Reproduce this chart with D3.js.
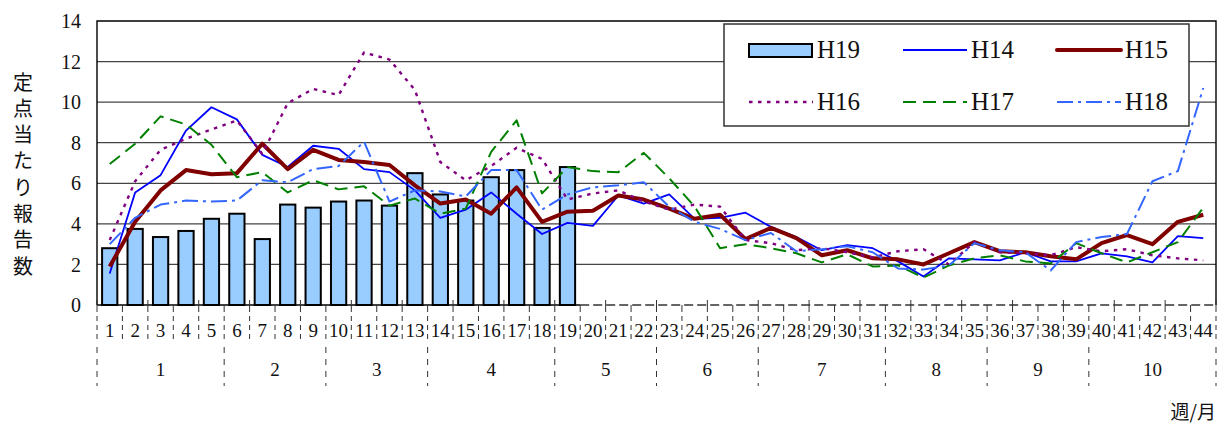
<!DOCTYPE html>
<html lang="ja">
<head>
<meta charset="UTF-8">
<title>定点当たり報告数</title>
<script src="https://cdn.jsdelivr.net/npm/d3@7"></script>
<style>
    body { margin: 0; background: #fff; }
    svg text { font-family: "Liberation Serif", "Times New Roman", serif; fill: #111; }
    svg text.jp { font-family: "Noto Sans CJK JP", sans-serif; }
</style>
</head>
<body>
<div id="chart"></div>
<script>
    // week numbers 1..44 and month groups
    const weeks = d3.range(1, 45);
    const monthLabels = ["1", "2", "3", "4", "5", "6", "7", "8", "9", "10"];
    const monthStart = [1, 6, 10, 14, 19, 23, 27, 32, 36, 40];
    const yTicks = [0, 2, 4, 6, 8, 10, 12, 14];

    // H19 (bars, weeks 1-19)
    const h19 = [2.8, 3.75, 3.35, 3.65, 4.25, 4.5, 3.25, 4.95, 4.8, 5.1, 5.15, 4.9, 6.5, 5.45, 5.15, 6.3, 6.65, 3.8, 6.8];
    const h14 = [1.55, 5.55, 6.4, 8.6, 9.75, 9.15, 7.4, 6.8, 7.85, 7.7, 6.7, 6.55, 5.65, 4.3, 4.7, 5.55, 4.5, 3.5, 4.05, 3.9,
        5.4, 5.0, 5.45, 4.25, 4.3, 4.55, 3.85, 3.35, 2.7, 2.95, 2.8, 2.15, 1.4, 2.3, 2.25, 2.2, 2.6, 2.15, 2.15, 2.55,
        2.4, 2.1, 3.4, 3.3];
    const h15 = [1.9, 4.1, 5.65, 6.65, 6.45, 6.5, 7.95, 6.7, 7.65, 7.15, 7.05, 6.9, 5.9, 5.0, 5.2, 4.5, 5.8, 4.1, 4.6, 4.65,
        5.4, 5.2, 4.75, 4.25, 4.45, 3.25, 3.8, 3.3, 2.45, 2.7, 2.3, 2.25, 2.0, 2.55, 3.1, 2.65, 2.6, 2.4, 2.25, 3.05,
        3.45, 3.0, 4.1, 4.45];
    const h16 = [3.2, 6.1, 7.65, 8.2, 8.65, 9.1, 7.45, 9.95, 10.65, 10.35, 12.45, 12.1, 10.6, 7.05, 6.15, 6.85, 7.75, 7.2, 5.2, 5.5,
        5.65, 5.1, 4.7, 4.95, 4.85, 3.2, 3.05, 2.7, 2.8, 2.6, 2.35, 2.65, 2.75, 2.0, 3.1, 2.6, 2.55, 2.45, 2.85, 2.65,
        2.75, 2.45, 2.3, 2.2];
    const h17 = [6.95, 7.95, 9.3, 8.9, 7.9, 6.3, 6.55, 5.55, 6.15, 5.7, 5.85, 4.9, 5.25, 4.5, 4.75, 7.55, 9.1, 5.5, 6.8, 6.6,
        6.55, 7.5, 6.25, 4.85, 2.8, 3.0, 2.8, 2.55, 2.1, 2.5, 1.9, 1.95, 1.35, 1.95, 2.3, 2.45, 2.15, 2.05, 3.05, 2.55,
        2.1, 2.6, 3.1, 4.8];
    const h18 = [3.0, 4.3, 4.95, 5.15, 5.1, 5.15, 6.15, 6.05, 6.7, 6.85, 8.05, 5.1, 5.65, 5.6, 5.35, 6.65, 6.65, 4.7, 5.45, 5.8,
        5.9, 6.05, 4.85, 4.1, 3.75, 3.2, 3.55, 2.65, 2.75, 2.9, 2.6, 1.8, 1.75, 1.95, 3.05, 2.7, 2.6, 1.7, 3.1, 3.35,
        3.5, 6.1, 6.6, 10.7];

    const lineSeries = [
        { name: "H14", values: h14, color: "#0000ff", width: 1.8, dash: null },
        { name: "H15", values: h15, color: "#800000", width: 4, dash: null },
        { name: "H16", values: h16, color: "#800080", width: 2.4, dash: "3.5,5.5" },
        { name: "H17", values: h17, color: "#008000", width: 2, dash: "13,7" },
        { name: "H18", values: h18, color: "#3366ff", width: 2, dash: "16,5,3,5" }
    ];

    const width = 1224;
    const height = 427;
    const plotL = 97, plotR = 1216, plotT = 21, plotB = 305;

    const svg = d3.select("#chart")
        .append("svg")
        .attr("width", width)
        .attr("height", height);

    const x = d3.scaleBand()
        .domain(weeks)
        .range([plotL, plotR])
        .paddingInner(0.4)
        .paddingOuter(0.2);
    const step = x.step();
    const cx = w => x(w) + x.bandwidth() / 2;
    const edge = w => plotL + step * (w - 1);   // left edge of week w's slot

    const y = d3.scaleLinear()
        .domain([0, 14])
        .range([plotB, plotT]);

    // grid lines
    svg.append("g")
        .selectAll("line")
        .data(yTicks.filter(d => d > 0 && d < 14))
        .join("line")
        .attr("x1", plotL).attr("x2", plotR)
        .attr("y1", d => y(d)).attr("y2", d => y(d))
        .attr("stroke", "#444")
        .attr("stroke-width", 1.2);

    // frame: top, left, right
    svg.append("path")
        .attr("d", `M${plotL},${plotB}V${plotT}H${plotR}V${plotB}`)
        .attr("fill", "none")
        .attr("stroke", "#000")
        .attr("stroke-width", 1.4);

    // y tick labels
    svg.append("g")
        .selectAll("text")
        .data(yTicks)
        .join("text")
        .attr("x", 81)
        .attr("y", d => y(d))
        .attr("dy", "0.36em")
        .attr("text-anchor", "end")
        .attr("font-size", 20)
        .text(d => d);

    // y axis title, vertical
    const title = "定点当たり報告数";
    svg.append("g")
        .selectAll("text")
        .data(title.split(""))
        .join("text")
        .attr("class", "jp")
        .attr("x", 23)
        .attr("y", (d, i) => 81 + i * 26.3)
        .attr("text-anchor", "middle")
        .attr("dominant-baseline", "central")
        .attr("font-size", 20)
        .text(d => d);

    // bars
    svg.append("g")
        .selectAll("rect")
        .data(h19)
        .join("rect")
        .attr("x", (d, i) => x(weeks[i]))
        .attr("y", d => y(d))
        .attr("width", x.bandwidth())
        .attr("height", d => y(0) - y(d))
        .attr("fill", "#99ccff")
        .attr("stroke", "#000")
        .attr("stroke-width", 2);

    // lines
    const line = d3.line()
        .x((d, i) => cx(weeks[i]))
        .y(d => y(d));

    svg.append("g")
        .selectAll("path")
        .data(lineSeries)
        .join("path")
        .attr("d", d => line(d.values))
        .attr("fill", "none")
        .attr("stroke", d => d.color)
        .attr("stroke-width", d => d.width)
        .attr("stroke-dasharray", d => d.dash)
        .attr("stroke-linejoin", "round");

    // x axis baseline: solid under the bars, dashed after
    const barEnd = edge(h19.length + 1);
    svg.append("line")
        .attr("x1", plotL).attr("x2", barEnd)
        .attr("y1", plotB).attr("y2", plotB)
        .attr("stroke", "#000").attr("stroke-width", 1.6);
    svg.append("line")
        .attr("x1", barEnd).attr("x2", plotR)
        .attr("y1", plotB).attr("y2", plotB)
        .attr("stroke", "#333").attr("stroke-width", 1.6)
        .attr("stroke-dasharray", "9,4");

    // ticks at week boundaries
    const bounds = d3.range(1, 46);
    svg.append("g")
        .selectAll("line")
        .data(bounds)
        .join("line")
        .attr("x1", d => edge(d)).attr("x2", d => edge(d))
        .attr("y1", (d, i) => i % 2 === 0 ? plotB - 5 : plotB)
        .attr("y2", plotB + 7)
        .attr("stroke", "#333")
        .attr("stroke-width", 1);

    // week label row
    svg.append("g")
        .selectAll("line")
        .data(bounds)
        .join("line")
        .attr("x1", d => edge(d)).attr("x2", d => edge(d))
        .attr("y1", 316).attr("y2", 343)
        .attr("stroke", "#333")
        .attr("stroke-width", 1)
        .attr("stroke-dasharray", "5,4");

    svg.append("g")
        .selectAll("text")
        .data(weeks)
        .join("text")
        .attr("x", d => cx(d))
        .attr("y", 337)
        .attr("text-anchor", "middle")
        .attr("font-size", 19)
        .text(d => d);

    // month row
    const monthBounds = monthStart.concat([45]);
    svg.append("g")
        .selectAll("line")
        .data(monthBounds)
        .join("line")
        .attr("x1", d => edge(d)).attr("x2", d => edge(d))
        .attr("y1", 347).attr("y2", 386)
        .attr("stroke", "#333")
        .attr("stroke-width", 1)
        .attr("stroke-dasharray", "6,6");

    svg.append("g")
        .selectAll("text")
        .data(monthLabels)
        .join("text")
        .attr("x", (d, i) => (edge(monthStart[i]) + edge(monthBounds[i + 1])) / 2)
        .attr("y", 376)
        .attr("text-anchor", "middle")
        .attr("font-size", 19)
        .text(d => d);

    svg.append("text")
        .attr("class", "jp")
        .attr("x", 1216)
        .attr("y", 419)
        .attr("text-anchor", "end")
        .attr("font-size", 19)
        .text("週/月");

    // legend
    const lg = svg.append("g");
    lg.append("rect")
        .attr("x", 724).attr("y", 24)
        .attr("width", 465).attr("height", 102)
        .attr("fill", "#fff")
        .attr("stroke", "#333")
        .attr("stroke-width", 1.5);

    const legendItems = [{ name: "H19", bar: true }].concat(lineSeries);
    const colX = [749, 903, 1057];
    const rowY = [50, 102];
    legendItems.forEach((d, i) => {
        const lx = colX[i % 3], ly = rowY[Math.floor(i / 3)];
        if (d.bar) {
            lg.append("rect")
                .attr("x", lx).attr("y", ly - 6)
                .attr("width", 63).attr("height", 13)
                .attr("fill", "#99ccff")
                .attr("stroke", "#000")
                .attr("stroke-width", 2);
        } else {
            lg.append("line")
                .attr("x1", lx).attr("x2", lx + 64)
                .attr("y1", ly).attr("y2", ly)
                .attr("stroke", d.color)
                .attr("stroke-width", d.width)
                .attr("stroke-dasharray", d.dash)
                .attr("stroke-linecap", d.name === "H15" ? "round" : "butt");
        }
        lg.append("text")
            .attr("x", lx + 68)
            .attr("y", ly + 8)
            .attr("font-size", 25)
            .text(d.name);
    });
</script>
</body>
</html>
